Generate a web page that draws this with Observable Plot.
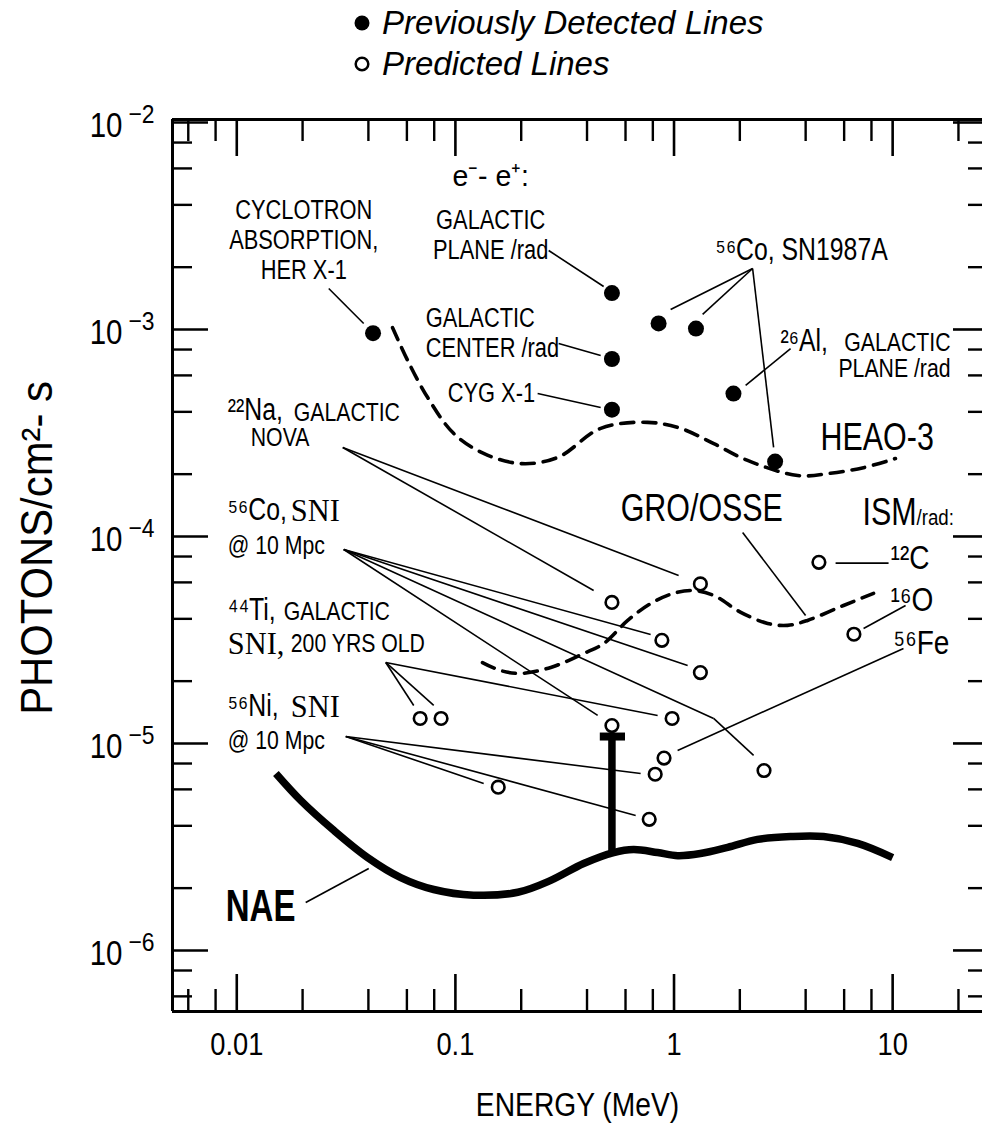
<!DOCTYPE html>
<html><head><meta charset="utf-8">
<script src="https://cdn.jsdelivr.net/npm/d3@7"></script>
<script src="https://cdn.jsdelivr.net/npm/@observablehq/plot@0.6"></script>
<style>
 html,body{margin:0;padding:0;background:#fff;}
 #wrap{position:relative;width:982px;height:1141px;overflow:hidden;background:#fff;}
 #legend{position:absolute;left:0;top:0;width:982px;height:95px;font-family:"Liberation Sans",Arial,Helvetica,sans-serif;font-style:italic;color:#000;}
 .row{position:absolute;left:352px;height:38px;display:flex;align-items:center;font-size:33px;white-space:nowrap;}
 .row svg{margin-right:10px;}
 #chart{position:absolute;left:0;top:95px;}
 #ytitle{position:absolute;left:37px;top:548px;transform:translate(-50%,-50%) rotate(-90deg) scaleX(0.95);
   font-family:"Liberation Sans",Arial,Helvetica,sans-serif;font-size:44px;white-space:nowrap;color:#000;line-height:1;}
</style></head>
<body><div id="wrap"><div id="legend">
 <div class="row" style="top:4px"><svg width="20" height="20"><circle cx="10" cy="10" r="7.5" fill="#000"/></svg><span>Previously Detected Lines</span></div>
 <div class="row" style="top:45px"><svg width="20" height="20"><circle cx="10" cy="10" r="6.3" fill="#fff" stroke="#000" stroke-width="2.5"/></svg><span>Predicted Lines</span></div>
</div><div id="chart"></div><div id="ytitle"></div></div>
<script>
const FONT = '"Liberation Sans", Arial, Helvetica, sans-serif';
const SERIF = '"Liberation Serif", "Times New Roman", Times, serif';

// ---------------- data ----------------
const xMajor = [0.01, 0.1, 1, 10];
const xMajorLabels = ["0.01", "0.1", "1", "10"];
const xMinor = [0.006, 0.008, 0.02, 0.04, 0.06, 0.08, 0.2, 0.4, 0.6, 0.8, 2, 4, 6, 8, 20];
const yMajor = [1e-6, 1e-5, 1e-4, 1e-3, 1e-2];
const yMajorExp = ["−6", "−5", "−4", "−3", "−2"];
const yMinor = [6e-7, 8e-7, 2e-6, 4e-6, 6e-6, 8e-6, 2e-5, 4e-5, 6e-5, 8e-5,
                2e-4, 4e-4, 6e-4, 8e-4, 2e-3, 4e-3, 6e-3, 8e-3];

// previously detected lines (filled)
const detectedE = [0.042, 0.52, 0.52, 0.52, 0.85, 1.26, 2.9, 1.87];
const detectedF = [9.6e-4, 1.5e-3, 7.2e-4, 4.1e-4, 1.07e-3, 1.01e-3, 2.3e-4, 4.9e-4];

// predicted lines (open)
const predictedE = [0.52, 1.32, 0.88, 1.32, 0.069, 0.086, 0.98, 0.52, 0.90, 0.82, 2.58, 0.157, 0.77, 4.6, 6.65];
const predictedF = [4.8e-5, 5.9e-5, 3.15e-5, 2.2e-5, 1.32e-5, 1.32e-5, 1.32e-5, 1.22e-5, 8.5e-6, 7.1e-6, 7.4e-6, 6.15e-6, 4.3e-6, 7.5e-5, 3.37e-5];

// HEAO-3 sensitivity (dashed)
const heaoE = [0.0516, 0.0605, 0.0747, 0.0981, 0.1346, 0.199, 0.294, 0.462, 0.757, 1.07, 1.52, 2.17, 3.68, 5.20, 7.36, 10.3];
const heaoF = [1.02e-3, 7.08e-4, 4.69e-4, 3.15e-4, 2.52e-4, 2.25e-4, 2.41e-4, 3.33e-4, 3.56e-4, 3.33e-4, 2.81e-4, 2.33e-4, 1.97e-4, 2.02e-4, 2.15e-4, 2.38e-4];

// GRO/OSSE sensitivity (dashed)
const osseE = [0.133, 0.161, 0.199, 0.273, 0.386, 0.477, 0.614, 0.782, 0.995, 1.23, 1.52, 2.02, 2.68, 3.31, 4.08, 5.96, 8.18];
const osseF = [2.46e-5, 2.25e-5, 2.18e-5, 2.33e-5, 2.72e-5, 3.04e-5, 3.93e-5, 4.74e-5, 5.31e-5, 5.48e-5, 5.19e-5, 4.30e-5, 3.80e-5, 3.72e-5, 3.93e-5, 4.64e-5, 5.31e-5];

// NAE sensitivity (thick solid)
const naeE = [0.0151, 0.0196, 0.0278, 0.0397, 0.0562, 0.0796, 0.121, 0.193, 0.273, 0.386, 0.530, 0.653, 0.841, 1.04, 1.32, 1.76, 2.41, 3.41, 4.83, 6.92, 10.0];
const naeF = [7.16e-6, 5.31e-6, 3.80e-6, 2.81e-6, 2.25e-6, 1.97e-6, 1.85e-6, 1.91e-6, 2.18e-6, 2.63e-6, 2.97e-6, 3.07e-6, 2.97e-6, 2.87e-6, 2.94e-6, 3.15e-6, 3.44e-6, 3.55e-6, 3.55e-6, 3.29e-6, 2.81e-6];

// narrow-line sensitivity bar at 511 keV
const barE = 0.52;
const barTopF = 1.08e-5;
const barBottomF = 3.0e-6;
const barCapE = [0.46, 0.60];

// leader lines [E1, F1, E2, F2]
const leaders = [
  [0.02634, 1.578e-3, 0.03807, 1.069e-3],
  [0.2671, 2.407e-3, 0.4766, 1.613e-3],
  [0.2967, 8.56e-4, 0.4618, 7.49e-4],
  [0.2378, 4.907e-4, 0.4618, 4.198e-4],
  [2.288, 1.971e-3, 0.9649, 1.249e-3],
  [2.288, 1.971e-3, 1.3516, 1.182e-3],
  [2.288, 1.971e-3, 2.854, 2.692e-4],
  [3.413, 8.09e-4, 2.126, 5.364e-4],
  [0.03053, 2.692e-4, 0.4289, 5.483e-5],
  [0.03053, 2.692e-4, 1.0495, 6.48e-5],
  [0.03085, 8.65e-5, 0.7816, 3.362e-5],
  [0.03085, 8.65e-5, 1.1539, 2.381e-5],
  [0.03085, 8.65e-5, 0.4474, 1.366e-5],
  [0.03085, 8.65e-5, 1.5177, 1.321e-5],
  [1.5177, 1.321e-5, 2.312, 8.75e-6],
  [0.04802, 2.462e-5, 0.06447, 1.526e-5],
  [0.04802, 2.462e-5, 0.07958, 1.526e-5],
  [0.04802, 2.462e-5, 0.8414, 1.366e-5],
  [0.03151, 1.081e-5, 0.1347, 6.41e-6],
  [0.03151, 1.081e-5, 0.7035, 7.16e-6],
  [0.03151, 1.081e-5, 0.6677, 4.49e-6],
  [11.21, 2.877e-5, 1.0387, 9.25e-6],
  [11.46, 4.642e-5, 7.362, 3.594e-5],
  [5.483, 7.43e-5, 9.579, 7.43e-5],
  [2.060, 1.0455e-4, 3.998, 4.153e-5],
  [0.02067, 1.705e-6, 0.04014, 2.489e-6]
];

// annotation texts: [text, E, F, anchor]
const smallLabels = [
  ["CYCLOTRON\nABSORPTION,\nHER X-1", 0.02025, 2.721e-3, "middle"],
  ["GALACTIC\nPLANE /rad", 0.1450, 2.892e-3, "middle"],
  ["GALACTIC\nCENTER /rad", 0.07314, 9.725e-4, "start"],
  ["CYG X-1", 0.09222, 4.962e-4, "start"]
];
const minorLabels = [
  ["GALACTIC\nPLANE /rad", 18.40, 7.49e-4, "end"],
  ["GALACTIC", 0.01822, 3.97e-4, "start"],
  ["NOVA", 0.01159, 3.008e-4, "start"],
  ["@ 10 Mpc", 0.009096, 9.05e-5, "start"],
  ["GALACTIC", 0.01640, 4.35e-5, "start"],
  ["200 YRS OLD", 0.01766, 3.041e-5, "start"],
  ["@ 10 Mpc", 0.009096, 1.034e-5, "start"]
];
const isotopeLabels = [
  ["⁵⁶Co, SN1987A", 1.5498, 2.407e-3, "start"],
  ["²⁶Al,", 3.072, 8.75e-4, "start"],
  ["²²Na,", 0.009096, 4.061e-4, "start"],
  ["⁵⁶Co,", 0.009096, 1.335e-4, "start"],
  ["⁴⁴Ti,", 0.009096, 4.39e-5, "start"],
  ["⁵⁶Ni,", 0.009096, 1.509e-5, "start"]
];
const pairLabels = [["e⁻- e⁺:", 0.1450, 5.483e-3, "middle"]];
const serifLabels = [
  ["SNI", 0.01766, 1.335e-4, "start"],
  ["SNI,", 0.009096, 3.041e-5, "start"],
  ["SNI", 0.01766, 1.509e-5, "start"]
];
const bigLabels = [
  ["HEAO-3", 4.68, 3.008e-4, "start"],
  ["GRO/OSSE", 0.5700, 1.365e-4, "start"],
  ["ISM", 7.285, 1.305e-4, "start"]
];
const radLabels = [["/rad:", 12.86, 1.235e-4, "start"]];
const elementLabels = [
  ["¹²C", 9.781, 7.83e-5, "start"],
  ["¹⁶O", 9.781, 4.906e-5, "start"],
  ["⁵⁶Fe", 10.095, 3.041e-5, "start"]
];
const naeLabels = [["NAE", 0.008906, 1.631e-6, "start"]];

const xAxisTitle = "ENERGY (MeV)";
const yAxisTitle = "PHOTONS/cm²- s";

// ---------------- build ----------------
const toRows = (E, F) => E.map((e, i) => ({E: e, F: F[i]}));
const detected = toRows(detectedE, detectedF);
const predicted = toRows(predictedE, predictedF);
const heao = toRows(heaoE, heaoF);
const osse = toRows(osseE, osseF);
const nae = toRows(naeE, naeF);

const W = 982, H = 1046, mL = 172, mR = 0, mT = 24, mB = 130;
const plotW = W - mL - mR, plotH = H - mT - mB;
const xDomain = [10 ** -2.294, 10 ** 1.411];
const yDomain = [10 ** -6.295, 10 ** -1.9855];

const condense = {small: 0.78, minor: 0.85, iso: 0.8, pair: 0.95, serif: 0.95, big: 0.78, rad: 0.85,
                  elem: 0.85, nae: 0.75, xtick: 0.88, ytick: 0.82, yexp: 0.88, xtitle: 0.83};

function labelMarks(rows, key, opts) {
  return ["start", "middle", "end"].map(a => Plot.text(rows.filter(r => r[3] === a), {
    x: d => d[1], y: d => d[2], text: d => d[0], textAnchor: a,
    lineAnchor: "middle", fill: "#000", ariaDescription: key, ...opts
  }));
}

const svg = Plot.plot({
  width: W, height: H,
  marginLeft: mL, marginRight: mR, marginTop: mT, marginBottom: mB,
  x: {type: "log", domain: xDomain, axis: null},
  y: {type: "log", domain: yDomain, axis: null},
  style: {background: "#fff", fontFamily: FONT, color: "#000"},
  marks: [
    // frame (left, top, bottom)
    Plot.ruleX([xDomain[0]], {stroke: "#000", strokeWidth: 3}),
    Plot.ruleY([yDomain[0], yDomain[1]], {stroke: "#000", strokeWidth: 3}),
    // ticks bottom
    Plot.tickX(xMajor, {x: d => d, insetTop: plotH - 37, strokeWidth: 2.6}),
    Plot.tickX(xMinor, {x: d => d, insetTop: plotH - 22, strokeWidth: 2.4}),
    // ticks top
    Plot.tickX(xMajor, {x: d => d, insetBottom: plotH - 37, strokeWidth: 2.6}),
    Plot.tickX(xMinor, {x: d => d, insetBottom: plotH - 22, strokeWidth: 2.4}),
    // ticks left
    Plot.tickY(yMajor, {y: d => d, insetRight: plotW - 36, strokeWidth: 2.6}),
    Plot.tickY(yMinor, {y: d => d, insetRight: plotW - 20, strokeWidth: 2.4}),
    // ticks right
    Plot.tickY(yMajor, {y: d => d, insetLeft: plotW - 29, strokeWidth: 2.6}),
    Plot.tickY(yMinor, {y: d => d, insetLeft: plotW - 14, strokeWidth: 2.4}),

    // tick labels
    Plot.text(xMajor, {x: d => d, text: (d, i) => xMajorLabels[i], frameAnchor: "bottom", dy: 34,
      lineAnchor: "middle", fontSize: 31, ariaDescription: "xtick"}),
    Plot.text(yMajor, {y: d => d, text: () => "10", frameAnchor: "left", textAnchor: "end",
      dx: -50, dy: 3, lineAnchor: "middle", fontSize: 36, ariaDescription: "ytick"}),
    Plot.text(yMajor, {y: d => d, text: (d, i) => yMajorExp[i], frameAnchor: "left", textAnchor: "start",
      dx: -44, dy: -8, lineAnchor: "middle", fontSize: 26, ariaDescription: "yexp"}),
    // x axis title
    Plot.text([xAxisTitle], {text: d => d, frameAnchor: "bottom", dy: 94, lineAnchor: "middle",
      fontSize: 34, ariaDescription: "xtitle"}),

    // sensitivity curves
    Plot.line(heao, {x: "E", y: "F", curve: "catmull-rom", stroke: "#000", strokeWidth: 3.6, strokeDasharray: "13,9"}),
    Plot.line(osse, {x: "E", y: "F", curve: "catmull-rom", stroke: "#000", strokeWidth: 3.6, strokeDasharray: "13,9"}),
    Plot.line(nae, {x: "E", y: "F", curve: "catmull-rom", stroke: "#000", strokeWidth: 7.5, strokeLinecap: "butt"}),
    Plot.ruleX([barE], {y1: barBottomF, y2: barTopF, stroke: "#000", strokeWidth: 7.5}),
    Plot.ruleY([barTopF], {x1: barCapE[0], x2: barCapE[1], stroke: "#000", strokeWidth: 8}),

    // leader lines
    Plot.link(leaders, {x1: d => d[0], y1: d => d[1], x2: d => d[2], y2: d => d[3], stroke: "#000", strokeWidth: 1.6}),

    // lines
    Plot.dot(detected, {x: "E", y: "F", r: 8, fill: "#000", stroke: "none"}),
    Plot.dot(predicted, {x: "E", y: "F", r: 6.3, fill: "#fff", stroke: "#000", strokeWidth: 2.6}),

    // annotations
    ...labelMarks(smallLabels, "small", {fontSize: 28, lineHeight: 1.08}),
    ...labelMarks(minorLabels, "minor", {fontSize: 25, lineHeight: 1.05}),
    ...labelMarks(isotopeLabels, "iso", {fontSize: 31}),
    ...labelMarks(pairLabels, "pair", {fontSize: 30}),
    ...labelMarks(serifLabels, "serif", {fontSize: 32, fontFamily: SERIF}),
    ...labelMarks(bigLabels, "big", {fontSize: 39}),
    ...labelMarks(radLabels, "rad", {fontSize: 22}),
    ...labelMarks(elementLabels, "elem", {fontSize: 33}),
    ...labelMarks(naeLabels, "nae", {fontSize: 44, fontWeight: "bold"})
  ]
});

// condense the lettering (the original uses a condensed grotesque)
svg.querySelectorAll("g[aria-description]").forEach(g => {
  const s = condense[g.getAttribute("aria-description")];
  if (!s) return;
  g.querySelectorAll("text").forEach(t => {
    const tr = t.getAttribute("transform") || "";
    t.setAttribute("transform", tr + ` scale(${s},1)`);
  });
});

document.getElementById("chart").appendChild(svg);
document.getElementById("ytitle").textContent = yAxisTitle;
</script></body></html>
